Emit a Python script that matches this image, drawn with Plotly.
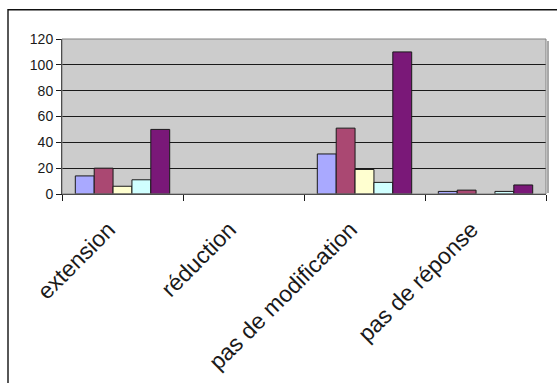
import plotly.graph_objects as go

# Categories and the five series (counts per answer)
categories = ["extension", "réduction", "pas de modification", "pas de réponse"]
series_names = ["Série 1", "Série 2", "Série 3", "Série 4", "Série 5"]
serie1 = [14, 0, 31, 2]
serie2 = [20, 0, 51, 3]
serie3 = [6, 0, 19, 0]
serie4 = [11, 0, 9, 2]
serie5 = [50, 0, 110, 7]
y_ticks = [0, 20, 40, 60, 80, 100, 120]

colors = ["#A9A9FF", "#AA4872", "#FFFFD0", "#D0FFFF", "#7A1878"]
values = [serie1, serie2, serie3, serie4, serie5]

fig = go.Figure()
for name, vals, col in zip(series_names, values, colors):
    fig.add_trace(go.Bar(
        x=categories, y=vals, name=name,
        marker=dict(color=col,
                    line=dict(color="#1a1a1a",
                              width=[1 if v > 0 else 0 for v in vals])),
        showlegend=False,
    ))

# Plot area in pixels: x 62..546, y 38.5..194.5
W, H = 557, 383
L, R, T, B = 62, 546, 38.5, 194.5
pw, ph = R - L, B - T

def px(x):
    return (x - L) / pw

def py(y):
    return (B - y) / ph

shapes = [
    # outer chart frame
    dict(type="rect", xref="paper", yref="paper",
         x0=px(8), x1=px(600), y0=py(420), y1=py(9),
         line=dict(color="#111111", width=1.4), layer="above"),
    # plot area frame
    dict(type="rect", xref="paper", yref="paper",
         x0=0, x1=1, y0=0, y1=1,
         line=dict(color="#808080", width=1), layer="above"),
    # soft shadow on the right of the plot area
    dict(type="line", xref="paper", yref="paper",
         x0=px(R + 2), x1=px(R + 2), y0=py(B - 1), y1=py(T + 2),
         line=dict(color="#A8A8A8", width=2), layer="above"),
]

fig.update_layout(
    width=W, height=H,
    margin=dict(l=L, r=W - R, t=T, b=H - B, pad=0, autoexpand=False),
    paper_bgcolor="white",
    plot_bgcolor="#CCCCCC",
    barmode="group",
    bargap=0.22,
    bargroupgap=0,
    font=dict(family="Liberation Sans, Arial, sans-serif", color="#1a1a1a"),
    shapes=shapes,
)

fig.update_xaxes(
    type="category",
    automargin=False,
    tickson="boundaries",
    ticks="outside", ticklen=6, tickcolor="#1a1a1a", tickwidth=1,
    showline=True, linecolor="#1a1a1a", linewidth=1,
    showgrid=False,
    tickangle=-45,
    ticklabelstandoff=12,
    ticklabelshift=-14,
    tickfont=dict(size=23, color="#1a1a1a"),
)

fig.update_yaxes(
    range=[0, 120],
    automargin=False,
    tickvals=y_ticks,
    ticks="outside", ticklen=5, tickcolor="#1a1a1a", tickwidth=1,
    showline=True, linecolor="#1a1a1a", linewidth=1,
    showgrid=True, gridcolor="#1a1a1a", gridwidth=1,
    zeroline=False,
    tickfont=dict(size=14, color="#1a1a1a"),
)

fig.write_html("out.html")
